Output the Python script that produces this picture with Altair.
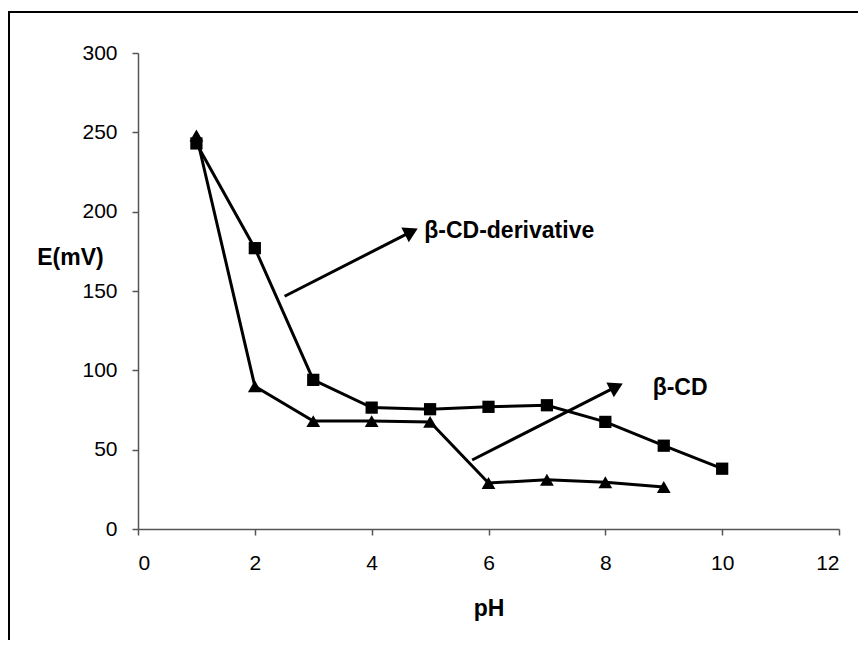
import altair as alt
import pandas as pd

# --- data ---
ph_deriv = [1, 2, 3, 4, 5, 6, 7, 8, 9, 10]
e_deriv = [243, 177, 94, 76.5, 75.5, 77, 78, 67.5, 52.5, 38]
ph_cd = [1, 2, 3, 4, 5, 6, 7, 8, 9]
e_cd = [248, 90, 68, 68, 67.5, 29, 31, 29.5, 26.5]

arrow_id = ["deriv", "deriv", "cd", "cd"]
arrow_ph = [2.51, 4.68, 5.72, 8.19]
arrow_e = [146.7, 187.4, 43.5, 89.7]
head_ph = [4.68, 8.19]
head_e = [187.4, 89.7]
label_text = ["β-CD-derivative", "β-CD"]
label_ph = [4.9, 8.81]
label_e = [187.7, 88.8]
x_ticks = [0, 2, 4, 6, 8, 10, 12]
y_ticks = [0, 50, 100, 150, 200, 250, 300]

FONT = "Liberation Sans"

deriv = pd.DataFrame({"pH": ph_deriv, "E": e_deriv})
cd = pd.DataFrame({"pH": ph_cd, "E": e_cd})
arrows = pd.DataFrame({"id": arrow_id, "pH": arrow_ph, "E": arrow_e})
heads = pd.DataFrame({"pH": head_ph, "E": head_e})
labels = pd.DataFrame({"t": label_text, "pH": label_ph, "E": label_e})

xs = alt.Scale(domain=[0, 12], nice=False, zero=True)
ys = alt.Scale(domain=[0, 300], nice=False)

x_enc = alt.X("pH:Q", scale=xs, axis=alt.Axis(
    values=x_ticks, format="d", title="pH", labelPadding=17, titleY=79,
    titleBaseline="middle"))
y_enc = alt.Y("E:Q", scale=ys, axis=alt.Axis(
    values=y_ticks, format="d", title="E(mV)", labelPadding=15, titleAngle=0,
    titleX=-68, titleY=204, titleAlign="center", titleBaseline="middle"))

frame = alt.Chart(pd.DataFrame({"a": [0]})).mark_rect(
    fill=None, stroke="black", strokeWidth=2
).encode(x=alt.value(-129), x2=alt.value(900), y=alt.value(-41), y2=alt.value(800))

line_d = alt.Chart(deriv).mark_line(color="black", strokeWidth=3).encode(x=x_enc, y=y_enc)
pts_d = alt.Chart(deriv).mark_point(shape="square", filled=True, color="black",
                                    size=150, opacity=1).encode(x="pH:Q", y="E:Q")
line_c = alt.Chart(cd).mark_line(color="black", strokeWidth=3).encode(x="pH:Q", y="E:Q")
pts_c = alt.Chart(cd).mark_point(shape="triangle-up", filled=True, color="black",
                                 size=190, opacity=1).encode(x="pH:Q", y="E:Q")

arr = alt.Chart(arrows).mark_line(color="black", strokeWidth=3).encode(
    x="pH:Q", y="E:Q", detail="id:N")
hd = alt.Chart(heads).mark_point(shape="triangle-up", filled=True, color="black",
                                 size=270, opacity=1, angle=63).encode(x="pH:Q", y="E:Q")
txt = alt.Chart(labels).mark_text(font=FONT, fontSize=23, fontWeight="bold",
                                  align="left", baseline="middle", color="black").encode(
    x="pH:Q", y="E:Q", text="t:N")

chart = alt.layer(frame, line_d, line_c, arr, pts_d, pts_c, hd, txt).properties(
    width=701, height=476,
    padding={"left": 130, "top": 45, "right": 19, "bottom": 111},
    autosize=alt.AutoSizeParams(type="none"),
    background="white",
).configure_view(stroke=None).configure_axis(
    grid=False, labelFont=FONT, labelFontSize=21, labelColor="black",
    titleFont=FONT, titleFontSize=23, titleFontWeight="bold", titleColor="black",
    domainColor="#555555", tickColor="#555555", tickSize=6, domainWidth=1.5, tickWidth=1.5,
)

chart.save("out.html", embed_options={"renderer": "svg", "actions": False})
